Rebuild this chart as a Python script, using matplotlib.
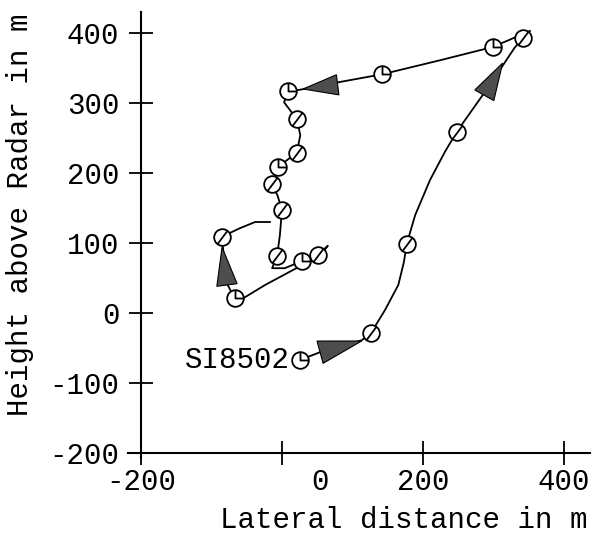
import numpy as np
import matplotlib
matplotlib.use('Agg')
import matplotlib.pyplot as plt
from matplotlib.path import Path
from matplotlib.transforms import ScaledTranslation

plt.rcParams['font.family'] = ['Liberation Mono', 'DejaVu Sans Mono']
plt.rcParams['font.size'] = 21

# balloon track, lateral distance / height in m
track_x = [26, 54, 113, 126, 146, 165, 173, 177, 189, 210, 231, 248, 295, 330, 342, 352,
           299, 224, 142, 82, 26, 9, 3, 21, 26, 21, 4, -6, -14, -6, 0, -3, -7, -14, 4,
           28, 51, 65, 51, 26, -24, -55, -67, -77, -82, -85, -60, -38, -17]
track_y = [-67, -56, -39, -29, 4, 40, 73, 99, 140, 190, 230, 259, 326, 379, 393, 403,
           380, 361, 341, 330, 319, 317, 301, 277, 254, 229, 216, 209, 184, 167, 147, 111, 81, 64, 64,
           74, 83, 96, 79, 67, 40, 21, 21, 40, 73, 109, 121, 130, 130]

# fixes along the track (0 = slashed circle, 1 = clock circle)
fix_x = [26, 126, 177, 248, 342, 299, 142, 9, 21, 21, -6, -14, 0, -7, 28, 51, -67, -85]
fix_y = [-67, -29, 99, 259, 393, 380, 341, 317, 277, 229, 209, 184, 147, 81, 74, 83, 21, 109]
fix_kind = [1, 0, 0, 0, 0, 1, 1, 1, 0, 0, 1, 0, 0, 0, 1, 0, 1, 0]

# direction arrows: tail centre -> tip, base width in m
arr_tail_x = [54, 287, 79, -78]
arr_tail_y = [-56, 311, 326, 40]
arr_tip_x = [113, 313, 30, -85]
arr_tip_y = [-40, 357, 320, 94]
arr_width = [33, 31, 29, 29]

station = 'SI8502'

xticks = [-200, 0, 200, 400]
yticks = [-200, -100, 0, 100, 200, 300, 400]

slash = Path.make_compound_path(Path.unit_circle(), Path([(-0.6, -0.8), (0.6, 0.8)]))
clock = Path.make_compound_path(Path.unit_circle(), Path([(0, 1), (0, 0), (0.9, 0)]))

fig = plt.figure(figsize=(5.95, 5.38), dpi=100)
ax = fig.add_axes([0.2156, 0.1489, 0.7761, 0.8288])

ax.plot(track_x, track_y, color='k', lw=1.3, zorder=2)

fx = np.array(fix_x); fy = np.array(fix_y); fk = np.array(fix_kind)
for k, mk in [(0, slash), (1, clock)]:
    sel = fk == k
    ax.plot(fx[sel], fy[sel], linestyle='none', marker=mk, markersize=12,
            markerfacecolor='white', markeredgecolor='k', markeredgewidth=1.3, zorder=3)

for i in range(len(arr_tip_x)):
    tip = np.array([arr_tip_x[i], arr_tip_y[i]], float)
    tail = np.array([arr_tail_x[i], arr_tail_y[i]], float)
    d = (tip - tail) / np.hypot(*(tip - tail))
    n = np.array([-d[1], d[0]]) * arr_width[i] / 2
    tri = np.array([tip, tail + n, tail - n])
    ax.fill(tri[:, 0], tri[:, 1], facecolor='#4d4d4d', edgecolor='k', lw=0.8, zorder=4)

ax.annotate(station, xy=(fix_x[0], fix_y[0]), xytext=(-10, 0), textcoords='offset pixels',
            ha='right', va='center')

ax.set_xlim(-218, 437)
ax.set_ylim(-207, 430)
for s in ['top', 'right']:
    ax.spines[s].set_visible(False)
ax.spines['left'].set_position(('data', -200))
ax.spines['bottom'].set_position(('data', -200))
ax.spines['left'].set_linewidth(1.5)
ax.spines['bottom'].set_linewidth(1.5)
ax.set_xticks(xticks)
ax.set_yticks(yticks)
ax.set_xticklabels([str(t) for t in xticks])
ax.set_yticklabels([str(t) for t in yticks])
ax.tick_params(direction='inout', length=17, width=1.3)
ax.tick_params(axis='x', pad=2)
ax.tick_params(axis='y', pad=7)

# the zero label sits off its tick
lab0 = ax.xaxis.get_major_ticks()[1].label1
lab0.set_transform(lab0.get_transform() + ScaledTranslation(38 / 100, 0, fig.dpi_scale_trans))

fig.text(587 / 595, 1 - 520 / 538, 'Lateral distance in m', ha='right', va='center')
fig.text(20 / 595, 1 - 215 / 538, 'Height above Radar in m', ha='center', va='center',
         rotation=90)

fig.savefig('out.png', dpi=100)
